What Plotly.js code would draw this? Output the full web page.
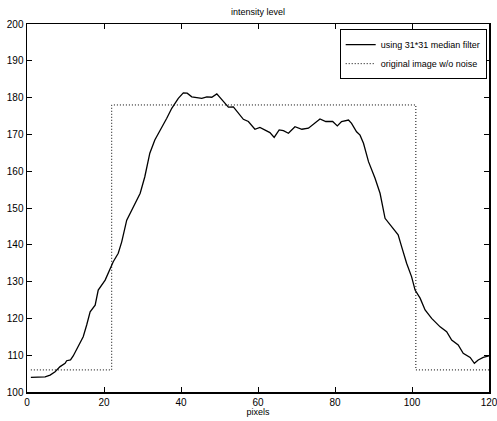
<!DOCTYPE html>
<html>
<head>
<meta charset="utf-8">
<script src="https://cdn.plot.ly/plotly-3.0.1.min.js"></script>
<style>html,body{margin:0;padding:0;background:#fff;}#chart{width:497px;height:421px;}</style>
</head>
<body>
<div id="chart"></div>
<script>
// Solid curve: using 31*31 median filter
const filteredX = [1, 2, 4.7, 6, 7.3, 8.6, 9.9, 10.3, 11.3, 12, 13.3, 14.6, 15.5, 16.4, 17.7, 18.5, 20.3, 21.6, 22.4, 23.7, 24.6, 25.9, 27.6, 29.4, 30.6, 31.9, 33.2, 35, 36.3, 37.6, 39.3, 40.6, 41.6, 42.8, 44.1, 45.4, 46.7, 48, 49.3, 50.6, 52.3, 53.6, 54.9, 56.2, 57.5, 59.2, 60.5, 61.8, 63.1, 64.2, 65.5, 66.6, 67.9, 69.6, 71.4, 73.1, 74.8, 76.1, 77.6, 79.4, 80.6, 81.7, 83.5, 84.3, 85.6, 86.5, 87.4, 88.7, 90.4, 91.7, 93, 94.3, 95.6, 96.4, 97.3, 98.6, 99.9, 100.8, 102.1, 103.4, 105.1, 107.3, 109, 110.3, 112, 113.3, 115.1, 116.2, 117.2, 118.5, 120];
const filteredY = [104, 104, 104.1, 104.6, 105.5, 106.9, 107.8, 108.5, 108.7, 109.8, 112.3, 115, 118.2, 121.8, 123.6, 127.7, 130.4, 133.6, 135.4, 137.7, 140.8, 146.7, 150.4, 154, 158.5, 164.9, 168.5, 171.7, 174.4, 177.1, 179.8, 181.3, 181.2, 180.2, 180.1, 179.8, 180.2, 180.1, 181, 179.5, 177.4, 177.5, 175.7, 174.1, 173.5, 171.4, 171.9, 171.2, 170.5, 169.2, 171.2, 171, 170.3, 172.1, 171.4, 171.7, 173.2, 174.2, 173.5, 173.5, 172.3, 173.5, 173.9, 173, 170.7, 169.8, 167.6, 162.6, 158.1, 154, 147.2, 145.4, 143.6, 142.7, 139.5, 135, 131.3, 127.7, 125.5, 122.3, 120, 117.7, 116.4, 114.1, 112.8, 110.5, 109.4, 107.8, 108.7, 109.4, 109.8];
// Dotted: original image w/o noise
const originalX = [1, 22, 22, 101, 101, 120];
const originalY = [106, 106, 178, 178, 106, 106];

const seriesNames = ['using 31*31 median filter', 'original image w/o noise'];
const xTicks = [0, 20, 40, 60, 80, 100, 120];
const yTicks = [100, 110, 120, 130, 140, 150, 160, 170, 180, 190, 200];

const font = {family: 'Liberation Sans, Arial, sans-serif', color: '#000'};

const traces = [
  {x: filteredX, y: filteredY, type: 'scatter', mode: 'lines', name: seriesNames[0],
   line: {color: '#000', width: 1.3}},
  {x: originalX, y: originalY, type: 'scatter', mode: 'lines', name: seriesNames[1],
   line: {color: '#000', width: 1, dash: '1px,2px'}}
];

const axisCommon = {
  showline: true, linecolor: '#000', linewidth: 1.5, mirror: 'ticks',
  ticks: 'inside', ticklen: 5, tickwidth: 1, tickcolor: '#000',
  showgrid: false, zeroline: false, tickfont: Object.assign({size: 10}, font),
  ticklabeloverflow: 'allow'
};

const layout = {
  width: 497, height: 421,
  margin: {l: 27, r: 8, t: 24, b: 29},
  paper_bgcolor: '#fff', plot_bgcolor: '#fff',
  font: Object.assign({size: 9}, font),
  title: {text: 'intensity level', font: Object.assign({size: 9}, font), x: 0.519, xanchor: 'center', y: 0.972, yanchor: 'middle'},
  xaxis: Object.assign({}, axisCommon, {range: [0, 120], tickvals: xTicks, ticktext: xTicks.map(String),
    title: {text: 'pixels', font: Object.assign({size: 9}, font), standoff: 2}}),
  yaxis: Object.assign({}, axisCommon, {range: [100, 200], tickvals: yTicks, ticktext: yTicks.map(String)}),
  showlegend: true,
  legend: {x: 0.995, xanchor: 'right', y: 0.986, yanchor: 'top', bgcolor: '#fff',
    bordercolor: '#000', borderwidth: 1, font: Object.assign({size: 9}, font),
    tracegroupgap: 0, itemwidth: 30}
};

Plotly.newPlot('chart', traces, layout, {displayModeBar: false, staticPlot: true});
</script>
</body>
</html>
